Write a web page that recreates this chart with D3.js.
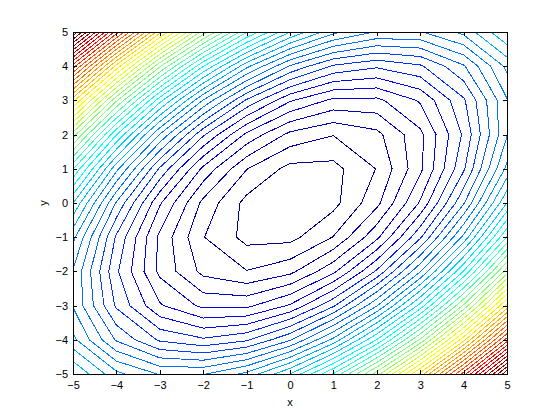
<!DOCTYPE html>
<html>
<head>
<meta charset="utf-8">
<script src="https://cdn.jsdelivr.net/npm/d3@7"></script>
<style>
body { margin: 0; background: #fff; }
text { font-family: "Liberation Sans", Arial, sans-serif; }
</style>
</head>
<body>
<div id="chart"></div>
<script>
// grid points (x across, y up)
const xs = [-5, -4, -3, -2, -1, 0, 1, 2, 3, 4, 5];
const ys = [-5, -4, -3, -2, -1, 0, 1, 2, 3, 4, 5];

// z values, one row per y (from y = -5 up to y = 5)
const zRows = [
  [25, 21, 19, 19, 21, 25, 31, 39, 49, 61, 75],
  [21, 16, 13, 12, 13, 16, 21, 28, 37, 48, 61],
  [19, 13,  9,  7,  7,  9, 13, 19, 27, 37, 49],
  [19, 12,  7,  4,  3,  4,  7, 12, 19, 28, 39],
  [21, 13,  7,  3,  1,  1,  3,  7, 13, 21, 31],
  [25, 16,  9,  4,  1,  0,  1,  4,  9, 16, 25],
  [31, 21, 13,  7,  3,  1,  1,  3,  7, 13, 21],
  [39, 28, 19, 12,  7,  4,  3,  4,  7, 12, 19],
  [49, 37, 27, 19, 13,  9,  7,  7,  9, 13, 19],
  [61, 48, 37, 28, 21, 16, 13, 12, 13, 16, 21],
  [75, 61, 49, 39, 31, 25, 21, 19, 19, 21, 25]
];

const levelCount = 50;
const xTicks = [-5, -4, -3, -2, -1, 0, 1, 2, 3, 4, 5];
const yTicks = [-5, -4, -3, -2, -1, 0, 1, 2, 3, 4, 5];

const width = 560, height = 420;
const mLeft = 73, mRight = 507, mTop = 32, mBottom = 374;

const svg = d3.select("#chart").append("svg")
  .attr("width", width)
  .attr("height", height);

const x = d3.scaleLinear().domain([-5, 5]).range([mLeft, mRight]);
const y = d3.scaleLinear().domain([-5, 5]).range([mBottom, mTop]);

// jet colormap, 64 entries like matlab
function jet(i) {
  const k = i + 1;
  const u = t => (t < 1 || t > 47) ? 0 : t <= 16 ? t / 16 : t <= 31 ? 1 : (48 - t) / 16;
  return d3.rgb(255 * u(k - 24), 255 * u(k - 8), 255 * u(k + 8)).formatHex();
}

const values = zRows.flat();
const zmin = d3.min(values), zmax = d3.max(values);
const levels = d3.range(1, levelCount + 1).map(k => zmin + k * (zmax - zmin) / (levelCount + 1));
const cmin = levels[0], cmax = levels[levels.length - 1];
const colorOf = v => jet(Math.min(63, Math.floor((v - cmin) / (cmax - cmin) * 64)));

const contours = d3.contours()
  .size([xs.length, ys.length])
  .thresholds(levels)(values);

const dx = xs[1] - xs[0], dy = ys[1] - ys[0];
const proj = d3.geoTransform({
  point: function(px, py) {
    this.stream.point(x(xs[0] + (px - 0.5) * dx), y(ys[0] + (py - 0.5) * dy));
  }
});
const path = d3.geoPath(proj);

svg.append("clipPath").attr("id", "plot")
  .append("rect")
  .attr("x", mLeft)
  .attr("y", mTop)
  .attr("width", mRight - mLeft)
  .attr("height", mBottom - mTop);

svg.append("g")
  .attr("clip-path", "url(#plot)")
  .selectAll("path")
  .data(contours)
  .join("path")
  .attr("d", path)
  .attr("fill", "none")
  .attr("stroke", d => colorOf(d.value))
  .attr("stroke-width", 1)
  .attr("shape-rendering", "crispEdges");

// axes, ticks inside on all four sides
const tick = 4;
const styleAxis = g => {
  g.attr("font-size", 11).attr("font-family", "Liberation Sans, Arial, sans-serif");
  g.selectAll("line,path").attr("stroke", "#000").attr("shape-rendering", "crispEdges");
  g.selectAll("text").attr("fill", "#000");
};

svg.append("g")
  .attr("transform", `translate(0,${mBottom})`)
  .call(d3.axisBottom(x).tickValues(xTicks).tickSizeInner(-tick).tickSizeOuter(0).tickPadding(7.5))
  .call(styleAxis);

svg.append("g")
  .attr("transform", `translate(${mLeft},0)`)
  .call(d3.axisLeft(y).tickValues(yTicks).tickSizeInner(-tick).tickSizeOuter(0).tickPadding(5))
  .call(styleAxis);

svg.append("g")
  .attr("transform", `translate(0,${mTop})`)
  .call(d3.axisTop(x).tickValues(xTicks).tickSizeInner(-tick).tickSizeOuter(0).tickFormat(""))
  .call(styleAxis);

svg.append("g")
  .attr("transform", `translate(${mRight},0)`)
  .call(d3.axisRight(y).tickValues(yTicks).tickSizeInner(-tick).tickSizeOuter(0).tickFormat(""))
  .call(styleAxis);

svg.append("text")
  .attr("x", (mLeft + mRight) / 2)
  .attr("y", 406)
  .attr("text-anchor", "middle")
  .style("font-size", "11px")
  .text("x");

svg.append("text")
  .attr("transform", `translate(47,${(mTop + mBottom) / 2}) rotate(-90)`)
  .attr("text-anchor", "middle")
  .style("font-size", "11px")
  .text("y");
</script>
</body>
</html>
